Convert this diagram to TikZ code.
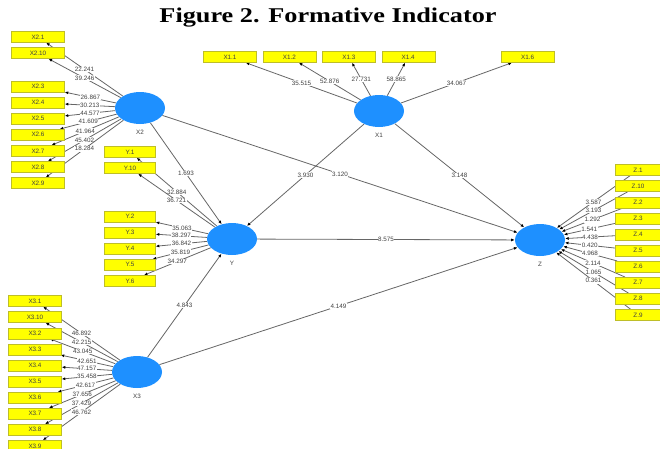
\documentclass[tikz,border=0pt]{standalone}
\usepackage{fontspec}
\setmainfont{Liberation Serif}
\newfontfamily\plsfont{Liberation Sans}
\usetikzlibrary{positioning,arrows.meta,shapes.geometric}
\pgfdeclarelayer{bg}
\pgfsetlayers{bg,main}

\definecolor{latentblue}{RGB}{30,144,255}
\definecolor{indyellow}{RGB}{255,255,0}
\definecolor{indedge}{RGB}{190,190,40}

\begin{document}
\begin{tikzpicture}[
  x=1pt, y=1pt,
  node distance=4.7pt,
  every node/.style={font=\plsfont\fontsize{6.3}{7}\selectfont, text=black!75},
  latent/.style={ellipse, fill=latentblue, minimum width=50pt, minimum height=32pt, inner sep=0pt},
  ind/.style={rectangle, fill=indyellow, draw=indedge, line width=0.4pt, minimum width=53pt, minimum height=11pt, inner sep=0pt},
  coef/.style={fill=white, inner sep=0.5pt},
  arr/.style={-{Latex[length=3.6pt, width=3pt, color=black]}, line width=0.8pt, draw=black!60}
]
\useasboundingbox (0,0) rectangle (660,-448);

\node[font=\bfseries\fontsize{21}{24}\selectfont, text=black] (title) at (328,-18) {\scalebox{1.25}[1]{Figure 2. Formative Indicator}};

% latent variables
\node[latent, label={[label distance=2pt]below:X1}] (X1) at (379,-111) {};
\node[latent, label={[label distance=2pt]below:X2}] (X2) at (140,-108) {};
\node[latent, label={[label distance=2pt]below:Y}] (Y) at (232,-239) {};
\node[latent, label={[label distance=2pt]below:X3}] (X3) at (137,-372) {};
\node[latent, label={[label distance=2pt]below:Z}] (Z) at (540,-240) {};

% X1 indicators
\node[ind] (x11) at (230,-57) {X1.1};
\node[ind, right=6pt of x11] (x12) {X1.2};
\node[ind, right=6pt of x12] (x13) {X1.3};
\node[ind, right=6pt of x13] (x14) {X1.4};
\node[ind, right=66pt of x14] (x16) {X1.6};

% X2 indicators
\node[ind] (x21) at (38,-37) {X2.1};
\node[ind, below=of x21] (x210) {X2.10};
\node[ind, below=22pt of x210] (x23) {X2.3};
\node[ind, below=of x23] (x24) {X2.4};
\node[ind, below=of x24] (x25) {X2.5};
\node[ind, below=of x25] (x26) {X2.6};
\node[ind, below=of x26] (x27) {X2.7};
\node[ind, below=of x27] (x28) {X2.8};
\node[ind, below=of x28] (x29) {X2.9};

% Y indicators
\node[ind, minimum width=51pt] (y1) at (130,-152) {Y.1};
\node[ind, minimum width=51pt, below=of y1] (y10) {Y.10};
\node[ind, minimum width=51pt, below=37pt of y10] (y2) {Y.2};
\node[ind, minimum width=51pt, below=of y2] (y3) {Y.3};
\node[ind, minimum width=51pt, below=of y3] (y4) {Y.4};
\node[ind, minimum width=51pt, below=of y4] (y5) {Y.5};
\node[ind, minimum width=51pt, below=of y5] (y6) {Y.6};

% X3 indicators
\node[ind] (x31) at (35,-301) {X3.1};
\node[ind, below=of x31] (x310) {X3.10};
\node[ind, below=of x310] (x32) {X3.2};
\node[ind, below=of x32] (x33) {X3.3};
\node[ind, below=of x33] (x34) {X3.4};
\node[ind, below=of x34] (x35) {X3.5};
\node[ind, below=of x35] (x36) {X3.6};
\node[ind, below=of x36] (x37) {X3.7};
\node[ind, below=of x37] (x38) {X3.8};
\node[ind, below=of x38] (x39) {X3.9};

% Z indicators
\node[ind, minimum width=46pt] (z1) at (638,-170) {Z.1};
\node[ind, minimum width=46pt, below=of z1] (z10) {Z.10};
\node[ind, minimum width=46pt, below=of z10] (z2) {Z.2};
\node[ind, minimum width=46pt, below=of z2] (z3) {Z.3};
\node[ind, minimum width=46pt, below=of z3] (z4) {Z.4};
\node[ind, minimum width=46pt, below=of z4] (z5) {Z.5};
\node[ind, minimum width=46pt, below=of z5] (z6) {Z.6};
\node[ind, minimum width=46pt, below=of z6] (z7) {Z.7};
\node[ind, minimum width=46pt, below=of z7] (z8) {Z.8};
\node[ind, minimum width=46pt, below=of z8] (z9) {Z.9};

\begin{pgfonlayer}{bg}
% outer loadings
\draw[arr] (X1) -- node[coef] {35.515} (x11);
\draw[arr] (X1) -- node[coef] {52.876} (x12);
\draw[arr] (X1) -- node[coef] {27.731} (x13);
\draw[arr] (X1) -- node[coef] {58.865} (x14);
\draw[arr] (X1) -- node[coef] {34.067} (x16);

\draw[arr] (X2) -- node[coef] {22.241} (x21);
\draw[arr] (X2) -- node[coef] {39.246} (x210);
\draw[arr] (X2) -- node[coef] {26.867} (x23);
\draw[arr] (X2) -- node[coef] {30.213} (x24);
\draw[arr] (X2) -- node[coef] {44.577} (x25);
\draw[arr] (X2) -- node[coef] {41.609} (x26);
\draw[arr] (X2) -- node[coef] {41.964} (x27);
\draw[arr] (X2) -- node[coef] {45.402} (x28);
\draw[arr] (X2) -- node[coef] {18.284} (x29);

\draw[arr] (Y) -- node[coef] {32.884} (y1);
\draw[arr] (Y) -- node[coef] {36.721} (y10);
\draw[arr] (Y) -- node[coef] {35.063} (y2);
\draw[arr] (Y) -- node[coef] {38.297} (y3);
\draw[arr] (Y) -- node[coef] {36.842} (y4);
\draw[arr] (Y) -- node[coef] {35.819} (y5);
\draw[arr] (Y) -- node[coef] {34.297} (y6);

\draw[arr] (X3) -- node[coef] {46.892} (x31);
\draw[arr] (X3) -- node[coef] {42.215} (x310);
\draw[arr] (X3) -- node[coef] {43.045} (x32);
\draw[arr] (X3) -- node[coef] {42.651} (x33);
\draw[arr] (X3) -- node[coef] {47.157} (x34);
\draw[arr] (X3) -- node[coef] {35.458} (x35);
\draw[arr] (X3) -- node[coef] {42.617} (x36);
\draw[arr] (X3) -- node[coef] {37.656} (x37);
\draw[arr] (X3) -- node[coef] {37.429} (x38);
\draw[arr] (X3) -- node[coef] {46.762} (x39);

\draw[arr] (z1) -- node[coef] {3.587} (Z);
\draw[arr] (z10) -- node[coef] {3.193} (Z);
\draw[arr] (z2) -- node[coef] {1.292} (Z);
\draw[arr] (z3) -- node[coef] {1.541} (Z);
\draw[arr] (z4) -- node[coef] {4.438} (Z);
\draw[arr] (z5) -- node[coef] {0.420} (Z);
\draw[arr] (z6) -- node[coef] {4.968} (Z);
\draw[arr] (z7) -- node[coef] {2.114} (Z);
\draw[arr] (z8) -- node[coef] {1.065} (Z);
\draw[arr] (z9) -- node[coef] {0.361} (Z);

% inner model
\draw[arr] (X2) -- node[coef] {1.693} (Y);
\draw[arr] (X1) -- node[coef] {3.930} (Y);
\draw[arr] (X3) -- node[coef] {4.843} (Y);
\draw[arr] (X2) -- node[coef] {3.120} (Z);
\draw[arr] (X1) -- node[coef] {3.148} (Z);
\draw[arr] (Y) -- node[coef] {8.575} (Z);
\draw[arr] (X3) -- node[coef] {4.149} (Z);
\end{pgfonlayer}
\end{tikzpicture}
\end{document}
